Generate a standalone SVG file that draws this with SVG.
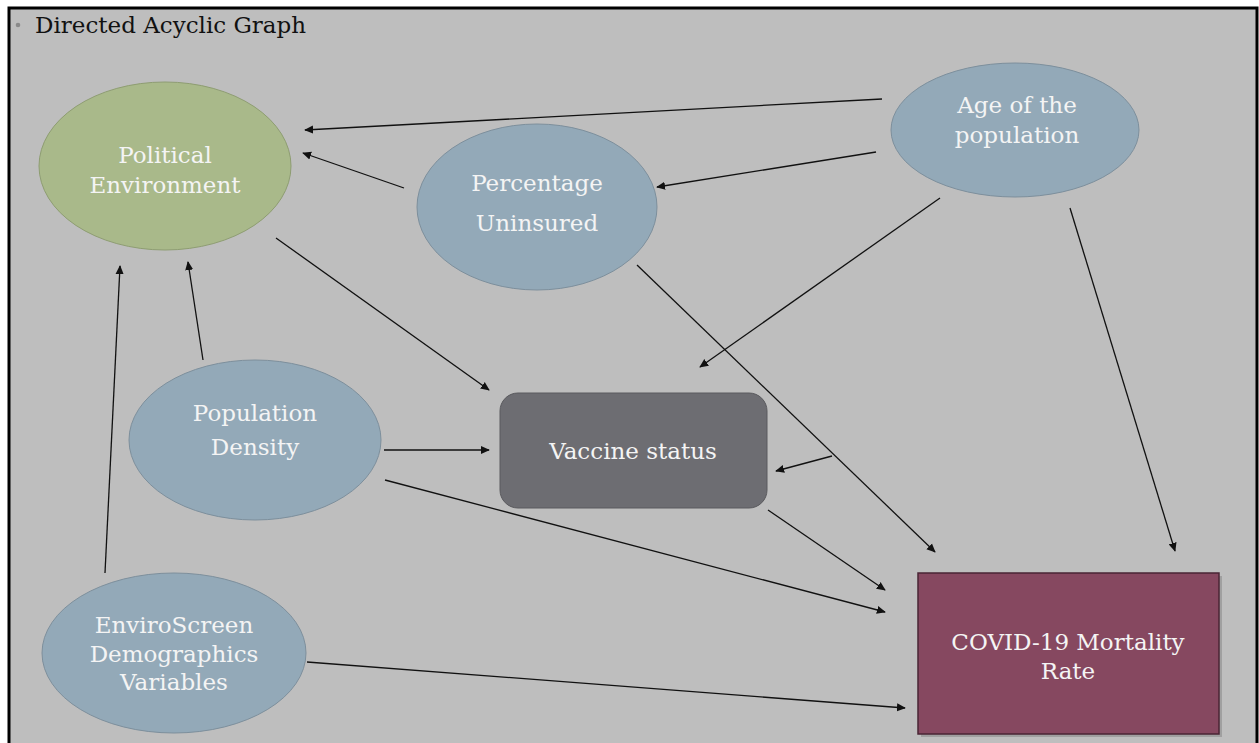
<svg xmlns="http://www.w3.org/2000/svg" width="1259" height="743" viewBox="0 0 1259 743">
<style>
.t{font-family:"DejaVu Serif","Liberation Serif",serif;font-size:23px;fill:#f4f4f4;text-anchor:middle}
.title{font-family:"DejaVu Serif","Liberation Serif",serif;font-size:23px;fill:#111}
.blue{fill:#93a9b8;stroke:#7d8f9c;stroke-width:1}
.c line{stroke:#111;stroke-width:1.3;marker-end:url(#ah)}
</style>
<defs>
<marker id="ah" viewBox="0 0 10 10" refX="9" refY="5" markerWidth="9" markerHeight="9" markerUnits="userSpaceOnUse" orient="auto">
<path d="M0,0.5 L10,5 L0,9.5 z" fill="#111"/>
</marker>
</defs>
<rect x="0" y="0" width="1259" height="743" fill="#ffffff"/>
<rect x="9" y="8" width="1248" height="740" fill="#bebebe" stroke="#000" stroke-width="3"/>
<g id="title">
<circle cx="18" cy="25" r="2.3" fill="#8a8a8a"/>
<text x="35" y="33" class="title">Directed Acyclic Graph</text>
</g>
<g class="c" id="connectors">
<line x1="882" y1="99" x2="305" y2="130"/>
<line x1="876" y1="152" x2="657" y2="187"/>
<line x1="404" y1="188" x2="303" y2="153"/>
<line x1="940" y1="198" x2="700" y2="367"/>
<line x1="1070" y1="208" x2="1175" y2="551"/>
<line x1="276" y1="238" x2="489" y2="390"/>
<line x1="637" y1="265" x2="935" y2="552"/>
<line x1="203" y1="360" x2="188" y2="262"/>
<line x1="105" y1="573" x2="120" y2="266"/>
<line x1="384" y1="450" x2="489" y2="450"/>
<line x1="832" y1="456" x2="776" y2="471"/>
<line x1="768" y1="510" x2="885" y2="590"/>
<line x1="385" y1="480" x2="885" y2="612"/>
<line x1="307" y1="662" x2="905" y2="708"/>
</g>
<g id="political">
<ellipse cx="165" cy="166" rx="126" ry="84" fill="#a9b98a" stroke="#8e9d72" stroke-width="1"/>
<text x="165" y="163" class="t">Political</text>
<text x="165" y="193" class="t">Environment</text>
</g>
<g id="age">
<ellipse cx="1015" cy="130" rx="124" ry="67" class="blue"/>
<text x="1017" y="113" class="t">Age of the</text>
<text x="1017" y="143" class="t">population</text>
</g>
<g id="uninsured">
<ellipse cx="537" cy="207" rx="120" ry="83" class="blue"/>
<text x="537" y="191" class="t">Percentage</text>
<text x="537" y="231" class="t">Uninsured</text>
</g>
<g id="density">
<ellipse cx="255" cy="440" rx="126" ry="80" class="blue"/>
<text x="255" y="421" class="t">Population</text>
<text x="255" y="455" class="t">Density</text>
</g>
<g id="enviro">
<ellipse cx="174" cy="653" rx="132" ry="80" class="blue"/>
<text x="174" y="633" class="t">EnviroScreen</text>
<text x="174" y="662" class="t">Demographics</text>
<text x="174" y="690" class="t">Variables</text>
</g>
<g id="vaccine">
<rect x="500" y="393" width="267" height="115" rx="18" fill="#6d6d72" stroke="#5a5a5e" stroke-width="1"/>
<text x="633" y="459" class="t">Vaccine status</text>
</g>
<g id="covid">
<rect x="921" y="576" width="301" height="161" fill="#8c8c8c" opacity="0.6"/>
<rect x="918" y="573" width="301" height="161" fill="#864860" stroke="#4a2535" stroke-width="1.5"/>
<text x="1068" y="650" class="t">COVID-19 Mortality</text>
<text x="1068" y="679" class="t">Rate</text>
</g>
</svg>
